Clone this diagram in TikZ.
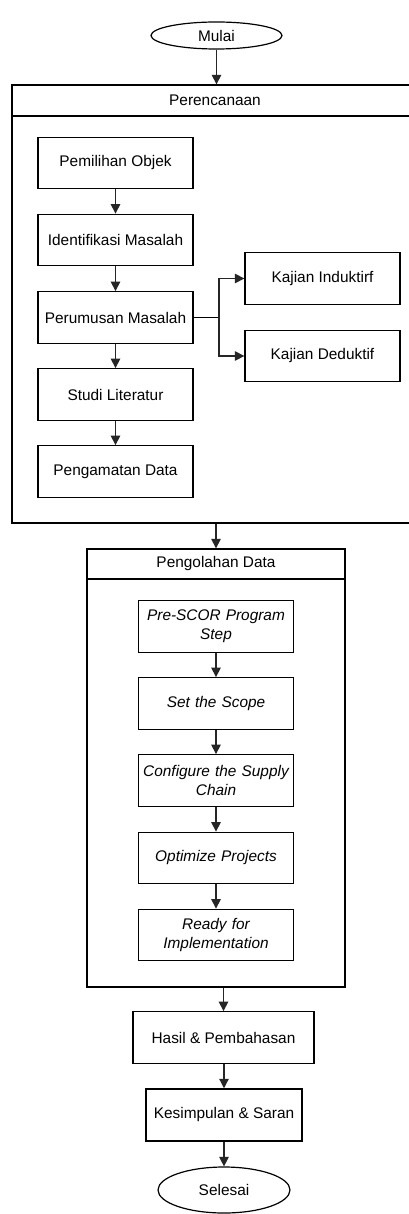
\documentclass[tikz,border=0pt]{standalone}
\usepackage{fontspec}
\setmainfont{Liberation Sans}
\usetikzlibrary{arrows.meta,shapes.geometric}
\tikzset{
  box/.style={draw=black, line width=1.3pt, rectangle, inner sep=0pt, minimum width=155pt, minimum height=51.5pt, align=center, font=\fontsize{15.4}{19}\selectfont},
  ibox/.style={box, font=\fontsize{15.4}{19}\selectfont\itshape, text width=150pt},
  term/.style={draw=black, line width=1.2pt, ellipse, inner sep=0pt, minimum width=131pt, minimum height=27pt, font=\fontsize{15.4}{19}\selectfont},
  frame/.style={draw=black, line width=1.3pt, rectangle, inner sep=0pt},
  head/.style={font=\fontsize{15.4}{19}\selectfont},
  arr/.style={draw=black!85, line width=1.2pt, -{Triangle[width=9.5pt,length=9.5pt]}},
  ln/.style={draw=black, line width=1.3pt}
}
\begin{document}
\begin{tikzpicture}[x=1pt,y=-1pt]
\useasboundingbox (0,0) rectangle (409,1214);
\clip (0,0) rectangle (409,1214);
\fill[white] (0,0) rectangle (409,1214);
% terminal
\node[term] (mulai) at (216.5,35.5) {Mulai};
% container Perencanaan
\node[frame, minimum width=406pt, minimum height=438pt] (per) at (215,304) {};
\coordinate (perhl) at (12,116);
\coordinate (perhr) at (418,116);
\draw[ln] (perhl) -- (perhr);
\node[head] (perh) at (215,100.5) {Perencanaan};
\node[box] (pem) at (115.5,163) {Pemilihan Objek};
\node[box] (ide) at (115.5,240) {Identifikasi Masalah};
\node[box] (rum) at (115.5,317.5) {Perumusan Masalah};
\node[box] (stu) at (115.5,394.5) {Studi Literatur};
\node[box] (amt) at (115.5,471.5) {Pengamatan Data};
\node[box] (kin) at (322.5,278.5) {Kajian Induktirf};
\node[box] (kde) at (322.5,356) {Kajian Deduktif};
\coordinate (br) at (219,317.5);
% container Pengolahan
\node[frame, minimum width=258pt, minimum height=438pt] (peng) at (216,768) {};
\coordinate (penghl) at (87,579);
\coordinate (penghr) at (345,579);
\draw[ln] (penghl) -- (penghr);
\node[head] (pengh) at (216,564) {Pengolahan Data};
\node[ibox] (p1) at (216,626.5) {Pre-SCOR Program\\Step};
\node[ibox] (p2) at (216,703.5) {Set the Scope};
\node[ibox] (p3) at (216,780.5) {Configure the Supply\\Chain};
\node[ibox] (p4) at (216,858) {Optimize Projects};
\node[ibox] (p5) at (216,935) {Ready for\\Implementation};
% results
\node[box, minimum width=181pt] (has) at (223.5,1037.5) {Hasil \& Pembahasan};
\node[box, line width=2pt, minimum width=156pt] (kes) at (224,1115) {Kesimpulan \& Saran};
\node[term, minimum width=132pt, minimum height=46pt] (sel) at (224,1190) {Selesai};
% connectors
\draw[arr] (mulai.south) -- (mulai.south |- per.north);
\draw[arr] (pem) -- (ide);
\draw[arr] (ide) -- (rum);
\draw[arr] (rum) -- (stu);
\draw[arr] (stu) -- (amt);
\draw[ln, line width=1.2pt] (rum.east) -- (br);
\draw[arr] (br) |- (kin.west);
\draw[arr] (br) |- (kde.west);
\draw[arr] (peng.north |- per.south) -- (peng.north);
\draw[arr] (p1) -- (p2);
\draw[arr] (p2) -- (p3);
\draw[arr] (p3) -- (p4);
\draw[arr] (p4) -- (p5);
\draw[arr] (has.north |- peng.south) -- (has.north);
\draw[arr] (has.south -| kes.north) -- (kes.north);
\draw[arr] (kes) -- (sel);
\end{tikzpicture}
\end{document}
